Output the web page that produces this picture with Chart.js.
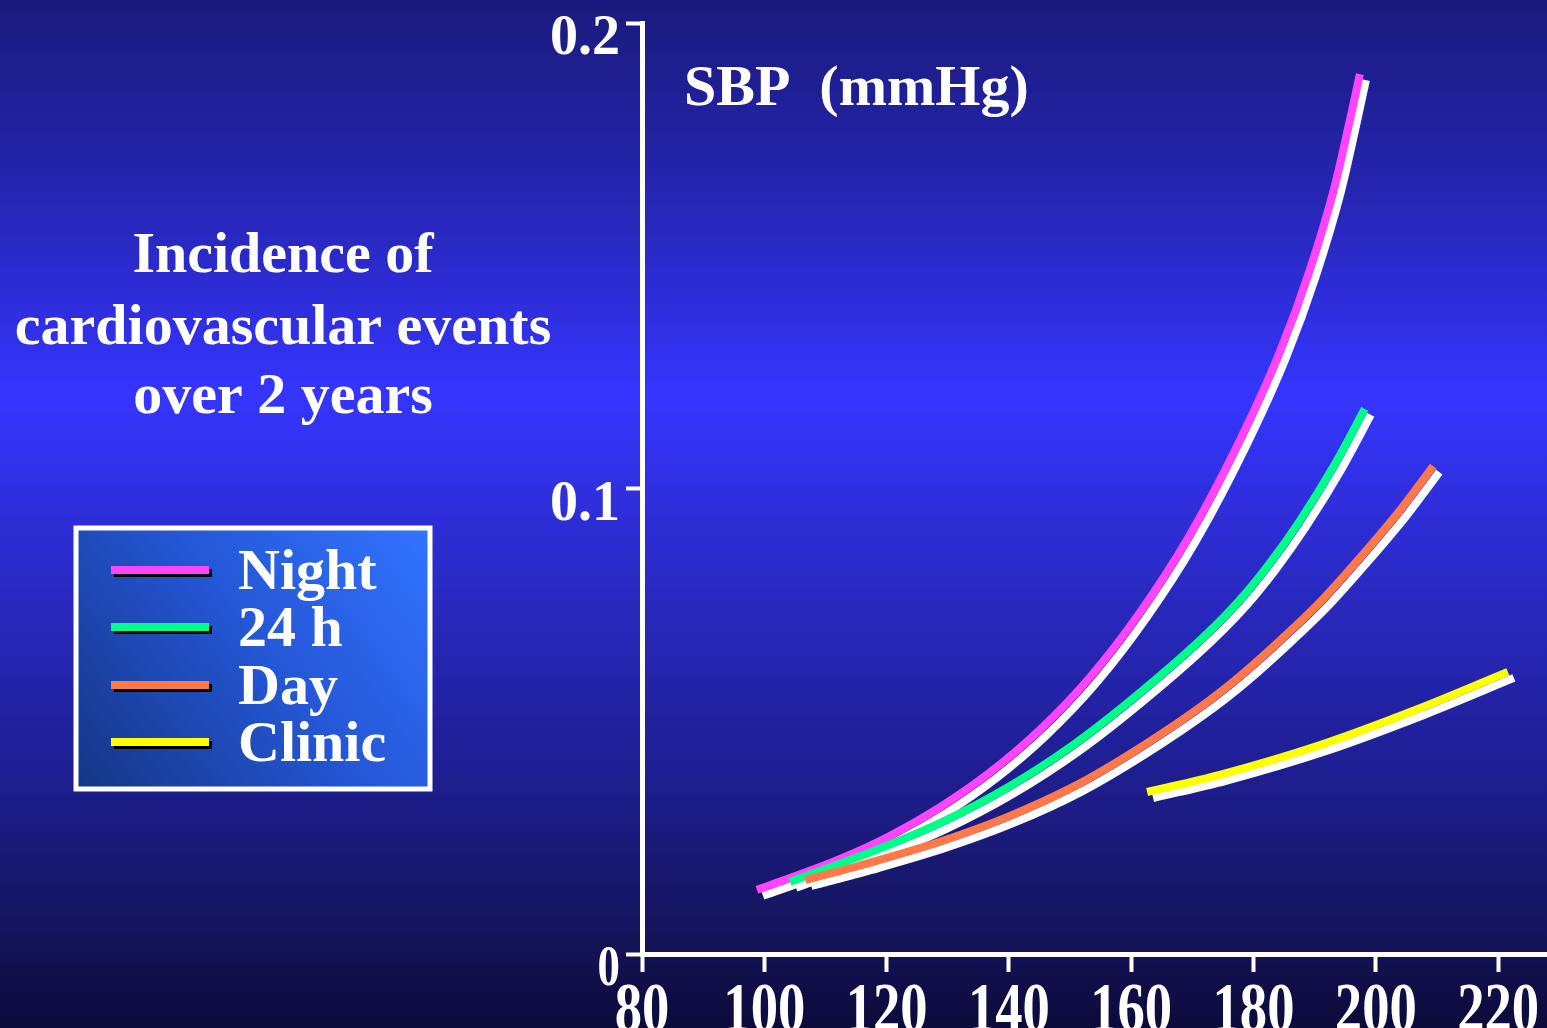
<!DOCTYPE html>
<html>
<head>
<meta charset="utf-8">
<title>SBP and cardiovascular events</title>
<script src="https://cdn.jsdelivr.net/npm/chart.js@4.4.1/dist/chart.umd.min.js"></script>
<style>
  html, body { margin: 0; padding: 0; background: #0c0b3a; overflow: hidden; }
  canvas { display: block; }
</style>
</head>
<body>
<canvas id="riskChart" width="1547" height="1028"></canvas>
<script>
// SBP (mmHg) against 2-year incidence, one curve per measurement type
const nightSbp    = [98.8, 104.2, 112.4, 120.6, 128.7, 136.9, 145.1, 153.3, 161.4, 169.6, 177.8, 184.3, 189.2, 193.3, 196.0, 197.4];
const nightRate   = [0.0138, 0.0163, 0.0204, 0.0254, 0.0315, 0.0390, 0.0482, 0.0595, 0.0733, 0.0900, 0.1104, 0.1293, 0.1469, 0.1650, 0.1805, 0.1890];
const fullDaySbp  = [104.2, 117.8, 128.7, 139.7, 150.5, 161.4, 172.4, 177.8, 182.7, 187.6, 193.3, 198.2];
const fullDayRate = [0.0155, 0.0221, 0.0281, 0.0357, 0.0449, 0.0561, 0.0688, 0.0761, 0.0840, 0.0931, 0.1052, 0.1171];
const daySbp      = [106.7, 117.8, 128.7, 139.7, 150.5, 161.4, 172.4, 177.8, 184.3, 190.9, 197.4, 204.0, 209.4];
const dayRate     = [0.0159, 0.0198, 0.0241, 0.0294, 0.0359, 0.0443, 0.0541, 0.0597, 0.0673, 0.0756, 0.0851, 0.0954, 0.1048];
const clinicSbp   = [162.6, 174.5, 190.9, 207.2, 221.6];
const clinicRate  = [0.0348, 0.0385, 0.0449, 0.0528, 0.0606];

const seriesNames  = ['Night', '24 h', 'Day', 'Clinic'];
const seriesColors = ['#ff44ff', '#00ff88', '#ff784a', '#ffff00'];

const xTicks = [80, 100, 120, 140, 160, 180, 200, 220];
const yTicks = [0, 0.1, 0.2];
const yTickLabels = ['0', '0.1', '0.2'];

const titleLines = ['Incidence of', 'cardiovascular events', 'over 2 years'];
const axisTitle = 'SBP  (mmHg)';

const serif = '"Liberation Serif", "Times New Roman", serif';

function toPoints(xs, ys) {
    return xs.map((x, i) => ({ x: x, y: ys[i] }));
}

// page background: dark navy top and bottom, bright blue band in the middle
const backdrop = {
    id: 'backdrop',
    beforeDraw(chart) {
        const ctx = chart.ctx;
        const g = ctx.createLinearGradient(0, 0, 0, chart.height);
        g.addColorStop(0, '#1a1a7c');
        g.addColorStop(0.2, '#2626b6');
        g.addColorStop(0.385, '#3535ff');
        g.addColorStop(0.56, '#2a2ac6');
        g.addColorStop(0.75, '#1e1e92');
        g.addColorStop(0.88, '#161664');
        g.addColorStop(1, '#0c0b3a');
        ctx.save();
        ctx.fillStyle = g;
        ctx.fillRect(0, 0, chart.width, chart.height);
        ctx.restore();
    }
};

// white drop line under every curve
const whiteShadow = {
    id: 'whiteShadow',
    beforeDatasetDraw(chart) {
        const ctx = chart.ctx;
        ctx.save();
        ctx.shadowColor = '#ffffff';
        ctx.shadowOffsetX = 6;
        ctx.shadowOffsetY = 6;
        ctx.shadowBlur = 0;
    },
    afterDatasetDraw(chart) {
        chart.ctx.restore();
    }
};

// tick labels, headings and the boxed legend
const annotations = {
    id: 'annotations',
    afterDraw(chart) {
        const ctx = chart.ctx;
        const xs = chart.scales.x;
        const ys = chart.scales.y;
        ctx.save();
        ctx.fillStyle = '#ffffff';

        // y tick labels
        ctx.font = 'bold 56px ' + serif;
        ctx.textAlign = 'right';
        ctx.textBaseline = 'alphabetic';
        yTicks.forEach((v, i) => {
            const y = ys.getPixelForValue(v) + 31;
            ctx.save();
            ctx.translate(620, y);
            if (v === 0) ctx.scale(0.8, 1);
            ctx.fillText(yTickLabels[i], 0, 0);
            ctx.restore();
        });

        // x tick labels, narrow and tall
        ctx.font = 'bold 70px ' + serif;
        ctx.textAlign = 'center';
        xTicks.forEach(v => {
            ctx.save();
            ctx.translate(xs.getPixelForValue(v), 1031);
            ctx.scale(0.78, 1);
            ctx.fillText(String(v), 0, 0);
            ctx.restore();
        });

        // axis heading and left-hand title
        ctx.font = 'bold 58px ' + serif;
        ctx.textAlign = 'left';
        ctx.fillText(axisTitle, 684, 105);
        ctx.textAlign = 'center';
        const baselines = [272, 344, 413];
        titleLines.forEach((t, i) => ctx.fillText(t, 283, baselines[i]));

        // legend box
        const bx = 76, by = 528, bw = 354, bh = 261;
        const lg = ctx.createLinearGradient(bx, by + bh, bx + bw, by);
        lg.addColorStop(0, '#153585');
        lg.addColorStop(0.55, '#2558d8');
        lg.addColorStop(1, '#3274ff');
        ctx.fillStyle = lg;
        ctx.fillRect(bx, by, bw, bh);
        ctx.strokeStyle = '#ffffff';
        ctx.lineWidth = 5;
        ctx.strokeRect(bx, by, bw, bh);

        const rowY = [570, 627, 685, 742];
        ctx.textAlign = 'left';
        ctx.font = 'bold 58px ' + serif;
        chart.data.datasets.forEach((ds, i) => {
            const y = rowY[i];
            ctx.fillStyle = '#000000';
            ctx.fillRect(114, y - 1, 98, 8);
            ctx.fillStyle = ds.borderColor;
            ctx.fillRect(111, y - 4, 98, 8);
            ctx.fillStyle = '#ffffff';
            ctx.fillText(ds.label, 238, y + 19);
        });
        ctx.restore();
    }
};

const series = [
    toPoints(nightSbp, nightRate),
    toPoints(fullDaySbp, fullDayRate),
    toPoints(daySbp, dayRate),
    toPoints(clinicSbp, clinicRate)
];

const chart = new Chart(document.getElementById('riskChart'), {
    type: 'line',
    data: {
        datasets: series.map((pts, i) => ({
            label: seriesNames[i],
            data: pts,
            borderColor: seriesColors[i],
            backgroundColor: seriesColors[i],
            borderWidth: 8,
            borderCapStyle: 'butt',
            pointRadius: 0,
            fill: false,
            cubicInterpolationMode: 'monotone',
            order: series.length - 1 - i
        }))
    },
    options: {
        responsive: false,
        animation: false,
        events: [],
        layout: { padding: { top: 23, left: 0, right: 0, bottom: 0 } },
        plugins: {
            legend: { display: false },
            tooltip: { enabled: false }
        },
        scales: {
            x: {
                type: 'linear',
                min: 80,
                max: 228,
                afterBuildTicks: s => { s.ticks = xTicks.map(v => ({ value: v })); },
                afterFit: s => { s.height = 74; },
                ticks: { display: false },
                grid: { drawOnChartArea: false, drawTicks: true, tickLength: 18, tickWidth: 4, tickColor: '#ffffff' },
                border: { color: '#ffffff', width: 5 }
            },
            y: {
                type: 'linear',
                min: 0,
                max: 0.2,
                afterBuildTicks: s => { s.ticks = yTicks.map(v => ({ value: v })); },
                afterFit: s => { s.width = 642; },
                ticks: { display: false },
                grid: { drawOnChartArea: false, drawTicks: true, tickLength: 16, tickWidth: 4, tickColor: '#ffffff' },
                border: { color: '#ffffff', width: 5 }
            }
        }
    },
    plugins: [backdrop, whiteShadow, annotations]
});
</script>
</body>
</html>
